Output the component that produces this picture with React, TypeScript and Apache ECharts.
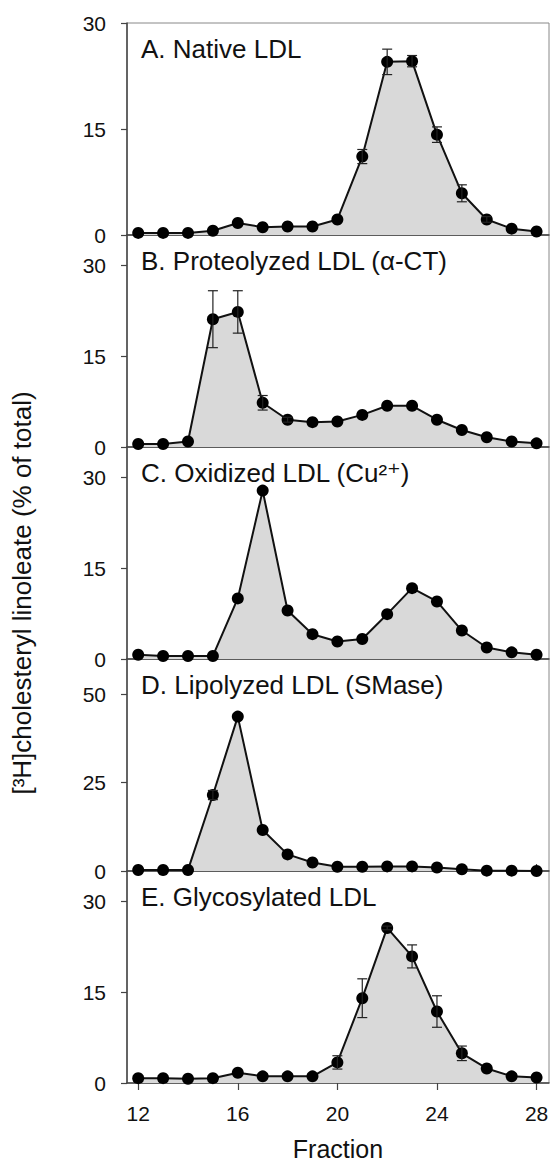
import React, { useEffect, useRef } from "react";
import * as echarts from "echarts";

const fractions = [12, 13, 14, 15, 16, 17, 18, 19, 20, 21, 22, 23, 24, 25, 26, 27, 28];
const xTicks = [12, 16, 20, 24, 28];

const panelTitles = [
  "A. Native LDL",
  "B. Proteolyzed LDL (α-CT)",
  "C. Oxidized LDL (Cu²⁺)",
  "D. Lipolyzed LDL (SMase)",
  "E. Glycosylated LDL",
];

const nativeLDL = [0.3, 0.3, 0.3, 0.6, 1.7, 1.1, 1.2, 1.2, 2.2, 11.1, 24.5, 24.6, 14.2, 5.9, 2.2, 0.9, 0.5];
const nativeErr = [0, 0, 0, 0, 0, 0, 0, 0, 0, 1.0, 1.8, 0.8, 1.1, 1.2, 0.4, 0, 0];

const proteolyzedLDL = [0.5, 0.5, 0.9, 21.1, 22.3, 7.3, 4.5, 4.1, 4.2, 5.3, 6.8, 6.8, 4.5, 2.8, 1.6, 0.9, 0.6];
const proteolyzedErr = [0, 0, 0, 4.7, 3.5, 1.2, 0.4, 0, 0, 0, 0, 0, 0, 0, 0, 0, 0];

const oxidizedLDL = [0.7, 0.5, 0.5, 0.5, 10.0, 27.8, 8.0, 4.1, 2.9, 3.3, 7.4, 11.7, 9.5, 4.7, 1.9, 1.1, 0.7];
const oxidizedErr = [0, 0, 0, 0, 0, 0, 0, 0, 0, 0, 0, 0, 0, 0, 0, 0, 0];

const lipolyzedLDL = [0.3, 0.3, 0.3, 21.5, 43.7, 11.6, 4.7, 2.4, 1.2, 1.2, 1.3, 1.3, 1.0, 0.5, 0.1, 0.1, 0.0];
const lipolyzedErr = [0, 0, 0, 1.3, 0, 0, 0, 0, 0, 0, 0, 0, 0, 0, 0, 0, 0];

const glycosylatedLDL = [0.8, 0.8, 0.7, 0.8, 1.7, 1.1, 1.1, 1.1, 3.4, 14.0, 25.6, 20.9, 11.8, 4.9, 2.4, 1.1, 0.9];
const glycosylatedErr = [0, 0, 0, 0, 0, 0, 0, 0, 1.1, 3.2, 0.3, 1.9, 2.6, 1.2, 0, 0, 0];

const panelValues = [nativeLDL, proteolyzedLDL, oxidizedLDL, lipolyzedLDL, glycosylatedLDL];
const panelErrors = [nativeErr, proteolyzedErr, oxidizedErr, lipolyzedErr, glycosylatedErr];
const yMax = [30, 35, 35, 60, 35];
const yTickValues = [
  [0, 15, 30],
  [0, 15, 30],
  [0, 15, 30],
  [0, 25, 50],
  [0, 15, 30],
];

const FONT = "'Liberation Sans', Arial, Helvetica, 'DejaVu Sans', sans-serif";

export default function App() {
  const ref = useRef<HTMLDivElement>(null);

  useEffect(() => {
    if (!ref.current) return;
    const chart = echarts.init(ref.current, undefined, { renderer: "svg" });

    const gridTop0 = 23;
    const gridH = 212;
    const grids: any[] = [];
    const xAxes: any[] = [];
    const yAxes: any[] = [];
    const series: any[] = [];
    const graphics: any[] = [];

    for (let p = 0; p < 5; p++) {
      const top = gridTop0 + p * gridH;
      grids.push({
        left: 127,
        right: 3,
        top,
        height: gridH,
        show: true,
        borderColor: "#888",
        borderWidth: 1,
        backgroundColor: "transparent",
      });
      const isLast = p === 4;
      xAxes.push({
        type: "value",
        gridIndex: p,
        min: 11.55,
        max: 28.5,
        splitLine: { show: false },
        axisLine: { show: true, lineStyle: { color: "#444", width: 1.5 } },
        axisTick: {
          show: true,
          inside: !isLast,
          length: 7,
          customValues: xTicks,
          lineStyle: { color: "#444", width: 1.2 },
        },
        axisLabel: {
          show: isLast,
          customValues: xTicks,
          fontSize: 21,
          color: "#111",
          fontFamily: FONT,
          margin: 20,
        },
        name: isLast ? "Fraction" : "",
        nameLocation: "middle",
        nameGap: 53,
        nameTextStyle: { fontSize: 25, color: "#111", fontFamily: FONT },
      });
      yAxes.push({
        type: "value",
        gridIndex: p,
        min: 0,
        max: yMax[p],
        splitLine: { show: false },
        axisLine: { show: true, onZero: false, lineStyle: { color: "#444", width: 1.5 } },
        axisTick: {
          show: true,
          inside: false,
          length: 6,
          customValues: yTickValues[p],
          lineStyle: { color: "#444", width: 1.2 },
        },
        axisLabel: {
          customValues: yTickValues[p],
          fontSize: 21,
          color: "#111",
          fontFamily: FONT,
          margin: 21,
        },
      });

      const vals = panelValues[p];
      series.push({
        type: "line",
        xAxisIndex: p,
        yAxisIndex: p,
        data: fractions.map((f, i) => [f, vals[i]]),
        symbol: "circle",
        symbolSize: 12,
        showAllSymbol: true,
        clip: false,
        lineStyle: { color: "#111", width: 2 },
        itemStyle: { color: "#000" },
        areaStyle: { color: "#d9d9d9", opacity: 1 },
        z: 3,
      });

      const errs = panelErrors[p];
      const errData = fractions
        .map((f, i) => [f, vals[i] - errs[i], vals[i] + errs[i], errs[i]])
        .filter((d) => d[3] > 0);
      if (errData.length) {
        series.push({
          type: "custom",
          xAxisIndex: p,
          yAxisIndex: p,
          data: errData,
          z: 4,
          renderItem: (params: any, api: any) => {
            const x = api.value(0);
            const lo = api.coord([x, api.value(1)]);
            const hi = api.coord([x, api.value(2)]);
            const cw = 5;
            const st = { stroke: "#222", lineWidth: 1.2 };
            return {
              type: "group",
              children: [
                { type: "line", shape: { x1: lo[0], y1: lo[1], x2: hi[0], y2: hi[1] }, style: st },
                { type: "line", shape: { x1: hi[0] - cw, y1: hi[1], x2: hi[0] + cw, y2: hi[1] }, style: st },
                { type: "line", shape: { x1: lo[0] - cw, y1: lo[1], x2: lo[0] + cw, y2: lo[1] }, style: st },
              ],
            };
          },
        });
      }

      graphics.push({
        type: "text",
        left: 141,
        top: top + 13,
        z: 10,
        style: {
          text: panelTitles[p],
          fontSize: 26,
          fill: "#111",
          fontFamily: FONT,
        },
      });
    }

    // extra inside ticks for bottom panel (ticks cross the axis)
    xAxes.push({
      type: "value",
      gridIndex: 4,
      min: 11.55,
      max: 28.5,
      position: "bottom",
      splitLine: { show: false },
      axisLine: { show: false },
      axisLabel: { show: false },
      axisTick: {
        show: true,
        inside: true,
        length: 7,
        customValues: xTicks,
        lineStyle: { color: "#444", width: 1.2 },
      },
    });

    graphics.push({
      type: "text",
      x: 22,
      y: 593,
      rotation: Math.PI / 2,
      style: {
        text: "[³H]cholesteryl linoleate (% of total)",
        fontSize: 26,
        fill: "#111",
        fontFamily: FONT,
        textAlign: "center",
        textVerticalAlign: "middle",
      },
    });

    chart.setOption({
      animation: false,
      backgroundColor: "#fff",
      grid: grids,
      xAxis: xAxes,
      yAxis: yAxes,
      series,
      graphic: graphics,
    });

    return () => chart.dispose();
  }, []);

  return (
    <div
      ref={ref}
      style={{ position: "absolute", left: 0, top: 0, width: 552, height: 1162 }}
    />
  );
}
